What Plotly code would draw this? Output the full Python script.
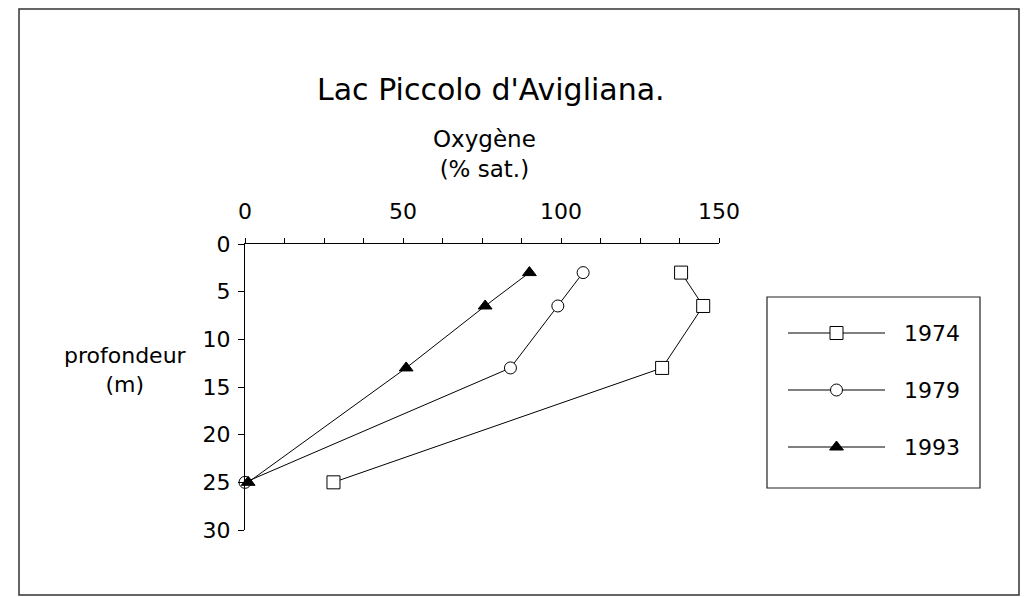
import plotly.graph_objects as go

W, H = 1026, 597
def X(px): return px / W
def Y(py): return 1 - py / H

depth = [3, 6.5, 13, 25]
o1974 = [138, 145, 132, 28]
o1979 = [107, 99, 84, 0]
o1993 = [90, 76, 51, 1]
years = ["1974", "1979", "1993"]
x_ticks = [0, 50, 100, 150]
y_ticks = [0, 5, 10, 15, 20, 25, 30]

FONT = "DejaVu Sans, Liberation Sans, Arial, sans-serif"
styles = [
    dict(symbol="square", size=13, color="white"),
    dict(symbol="circle", size=12, color="white"),
    dict(symbol="triangle-up", size=12, color="black"),
]

fig = go.Figure()
for vals, st, name in zip([o1974, o1979, o1993], styles, years):
    fig.add_trace(go.Scatter(
        x=vals, y=depth, mode="lines+markers", name=name, showlegend=False,
        line=dict(color="black", width=1),
        marker=dict(symbol=st["symbol"], size=st["size"], color=st["color"],
                    line=dict(color="black", width=1)),
        cliponaxis=False,
    ))

# legend samples drawn on an auxiliary axis
legend_rows = [333, 390, 447]
for i, (st, name) in enumerate(zip(styles, years)):
    k = i + 1
    fig.add_trace(go.Scatter(
        x=[0, 1], y=[k, k], mode="lines", showlegend=False, xaxis="x2", yaxis="y2",
        line=dict(color="black", width=1), hoverinfo="skip"))
    fig.add_trace(go.Scatter(
        x=[0.5], y=[k], mode="markers", showlegend=False, xaxis="x2", yaxis="y2",
        marker=dict(symbol=st["symbol"], size=st["size"], color=st["color"],
                    line=dict(color="black", width=1)), hoverinfo="skip"))

annotations = []
for name, py in zip(years, legend_rows):
    annotations.append(dict(x=X(902), y=Y(py), xref="paper", yref="paper", text=name,
                            showarrow=False, xanchor="left", yanchor="middle",
                            font=dict(size=22)))
annotations += [
    dict(x=X(491), y=Y(90), xref="paper", yref="paper", text="Lac Piccolo d'Avigliana.",
         showarrow=False, xanchor="center", yanchor="middle", font=dict(size=30)),
    dict(x=X(484), y=Y(153.5), xref="paper", yref="paper", text="Oxygène<br>(% sat.)",
         showarrow=False, xanchor="center", yanchor="middle", font=dict(size=23)),
    dict(x=X(125), y=Y(370), xref="paper", yref="paper", text="profondeur<br>(m)",
         showarrow=False, xanchor="center", yanchor="middle", font=dict(size=22)),
]

fig.update_layout(
    width=W, height=H,
    margin=dict(l=0, r=0, t=0, b=0),
    paper_bgcolor="white", plot_bgcolor="white",
    font=dict(family=FONT, color="black", size=21),
    xaxis=dict(
        domain=[X(245), X(719)], range=[0, 150], side="top",
        showgrid=False, zeroline=False, showline=True, linecolor="black", linewidth=1,
        tickvals=x_ticks, ticks="outside", ticklen=5, tickcolor="black", tickwidth=1,
        minor=dict(dtick=12.5, tick0=0, ticks="outside", ticklen=5, tickcolor="black", tickwidth=1),
        tickfont=dict(size=22), ticklabelstandoff=10, automargin=False, anchor="y",
    ),
    yaxis=dict(
        domain=[Y(530), Y(244)], range=[30, 0],
        showgrid=False, zeroline=False, showline=True, linecolor="black", linewidth=1,
        tickvals=y_ticks, ticks="outside", ticklen=6, tickcolor="black", tickwidth=1,
        tickfont=dict(size=22), ticklabelstandoff=3, automargin=False, anchor="x",
    ),
    xaxis2=dict(domain=[X(788), X(885)], range=[0, 1], visible=False, anchor="y2",
                fixedrange=True),
    yaxis2=dict(domain=[Y(475.5), Y(304.5)], range=[3.5, 0.5], visible=False, anchor="x2",
                fixedrange=True),
    shapes=[
        dict(type="rect", xref="paper", yref="paper", x0=X(19), x1=X(1019), y0=Y(595), y1=Y(9),
             line=dict(color="#333", width=1.5), fillcolor="rgba(0,0,0,0)", layer="below"),
        dict(type="rect", xref="paper", yref="paper", x0=X(767), x1=X(980), y0=Y(488), y1=Y(297),
             line=dict(color="#222", width=1.2), fillcolor="rgba(0,0,0,0)", layer="below"),
    ],
    annotations=annotations,
)

fig.write_html("out.html", config={"displayModeBar": False},
               post_script="document.body.style.margin='0';")
